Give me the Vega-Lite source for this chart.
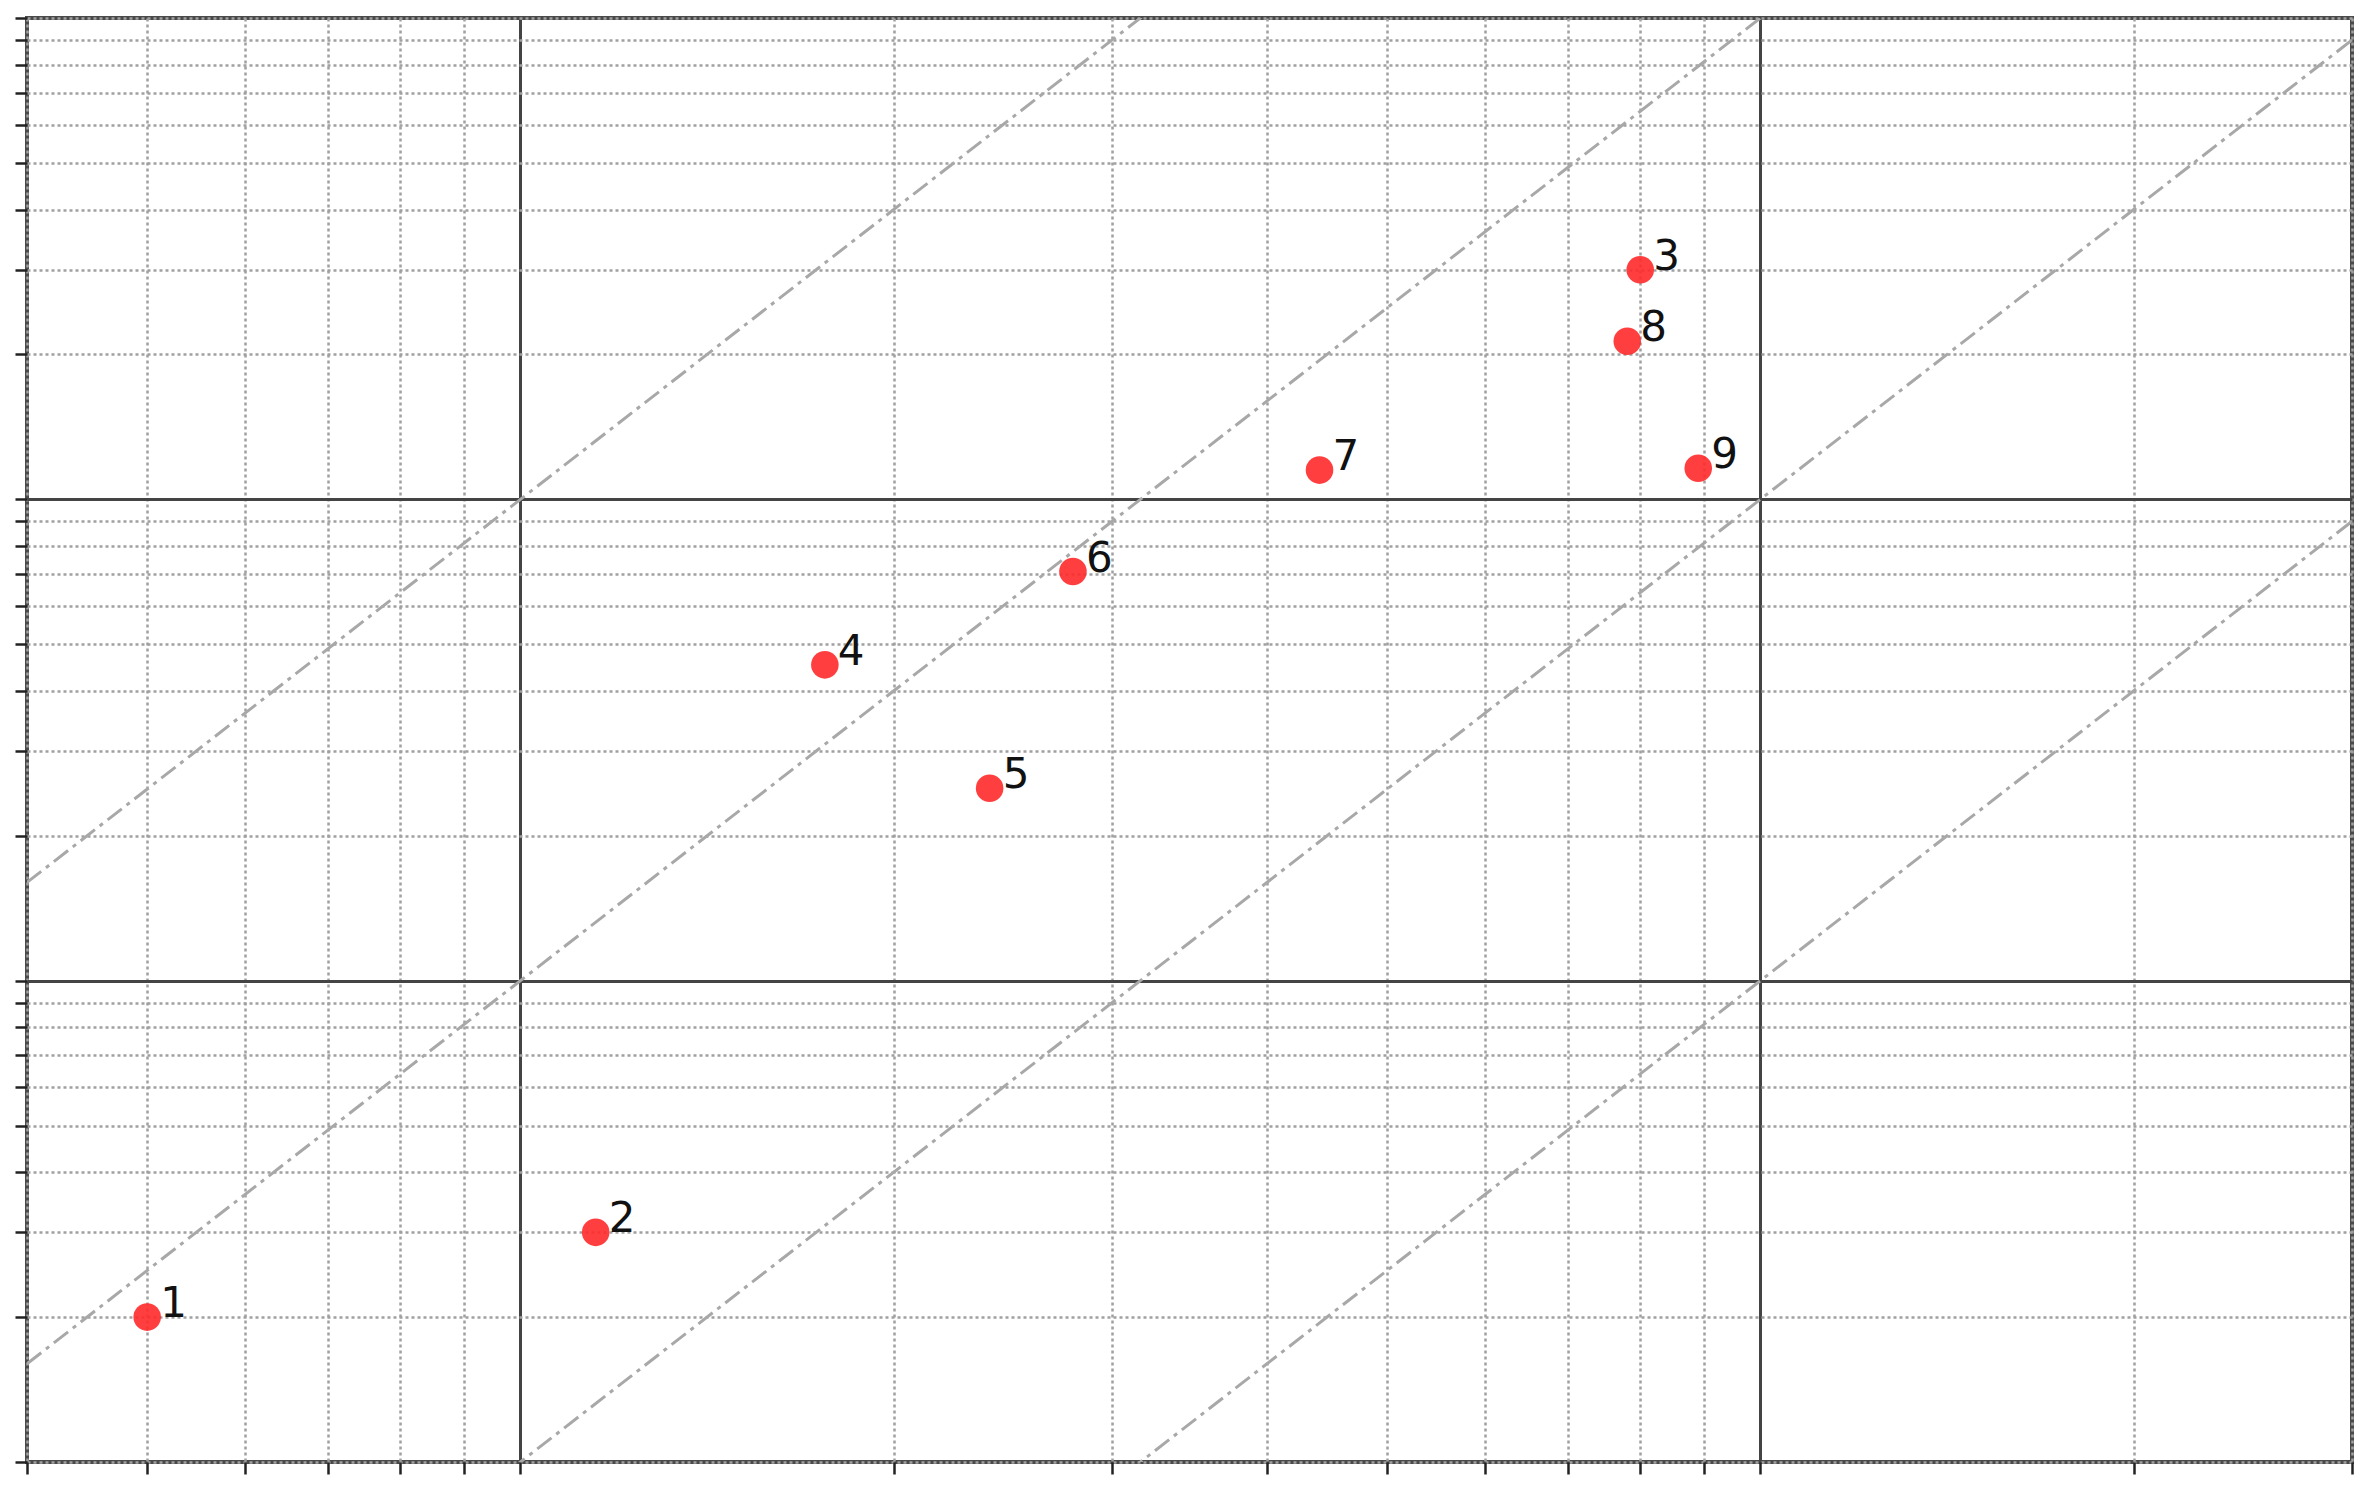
{
  "$schema": "https://vega.github.io/schema/vega-lite/v6.json",
  "width": 2325,
  "height": 1444,
  "autosize": {"type": "none"},
  "padding": {"left": 27, "top": 18, "right": 21, "bottom": 27},
  "background": "white",
  "config": {
    "view": {"stroke": "#4a4a4a", "strokeWidth": 4},
    "axis": {
      "labels": false,
      "domain": false,
      "title": null,
      "grid": true,
      "ticks": true,
      "tickSize": 12,
      "tickWidth": 2.5,
      "tickColor": "#222",
      "gridWidth": {"condition": {"test": "datum.value == 1 || datum.value == 10", "value": 3}, "value": 2.5},
      "gridColor": {"condition": {"test": "datum.value == 1 || datum.value == 10", "value": "#444444"}, "value": "#a0a0a0"},
      "gridDash": {"condition": {"test": "datum.value == 1 || datum.value == 10", "value": []}, "value": [3, 3]},
      "gridOpacity": 1
    }
  },
  "datasets": {
    "pts": [
      {"x": 0.5, "y": 0.2, "label": "1"},
      {"x": 1.15, "y": 0.3, "label": "2"},
      {"x": 8.0, "y": 30, "label": "3"},
      {"x": 1.76, "y": 4.53, "label": "4"},
      {"x": 2.39, "y": 2.51, "label": "5"},
      {"x": 2.79, "y": 7.08, "label": "6"},
      {"x": 4.41, "y": 11.5, "label": "7"},
      {"x": 7.81, "y": 21.3, "label": "8"},
      {"x": 8.91, "y": 11.6, "label": "9"}
    ],
    "guides": [
      {"x": 0.4, "y": 1.6, "c": "10"},
      {"x": 30, "y": 9000, "c": "10"},
      {"x": 0.4, "y": 0.16, "c": "1"},
      {"x": 30, "y": 900, "c": "1"},
      {"x": 0.4, "y": 0.016, "c": "0.1"},
      {"x": 30, "y": 90, "c": "0.1"},
      {"x": 0.4, "y": 0.0016, "c": "0.01"},
      {"x": 30, "y": 9, "c": "0.01"}
    ]
  },
  "layer": [
    {
      "data": {"name": "guides"},
      "mark": {"type": "line", "clip": true, "color": "#a8a8a8", "strokeWidth": 3, "strokeDash": [18, 6, 4, 6]},
      "encoding": {
        "x": {
          "field": "x", "type": "quantitative",
          "scale": {"type": "log", "domain": [0.4, 30], "nice": false, "zero": false},
          "axis": {"values": [0.4, 0.5, 0.6, 0.7, 0.8, 0.9, 1, 2, 3, 4, 5, 6, 7, 8, 9, 10, 20, 30]}
        },
        "y": {
          "field": "y", "type": "quantitative",
          "scale": {"type": "log", "domain": [0.1, 100], "nice": false, "zero": false},
          "axis": {"values": [0.1, 0.2, 0.3, 0.4, 0.5, 0.6, 0.7, 0.8, 0.9, 1, 2, 3, 4, 5, 6, 7, 8, 9, 10, 20, 30, 40, 50, 60, 70, 80, 90, 100]}
        },
        "detail": {"field": "c"}
      }
    },
    {
      "data": {"name": "pts"},
      "mark": {"type": "point", "filled": true, "shape": "circle", "size": 760, "color": "#ff2a2a", "opacity": 0.9},
      "encoding": {
        "x": {"field": "x", "type": "quantitative"},
        "y": {"field": "y", "type": "quantitative"}
      }
    },
    {
      "data": {"name": "pts"},
      "mark": {"type": "text", "align": "left", "baseline": "alphabetic", "dx": 13, "dy": 0, "fontSize": 42, "font": "DejaVu Sans", "color": "#111"},
      "encoding": {
        "x": {"field": "x", "type": "quantitative"},
        "y": {"field": "y", "type": "quantitative"},
        "text": {"field": "label"}
      }
    }
  ]
}
